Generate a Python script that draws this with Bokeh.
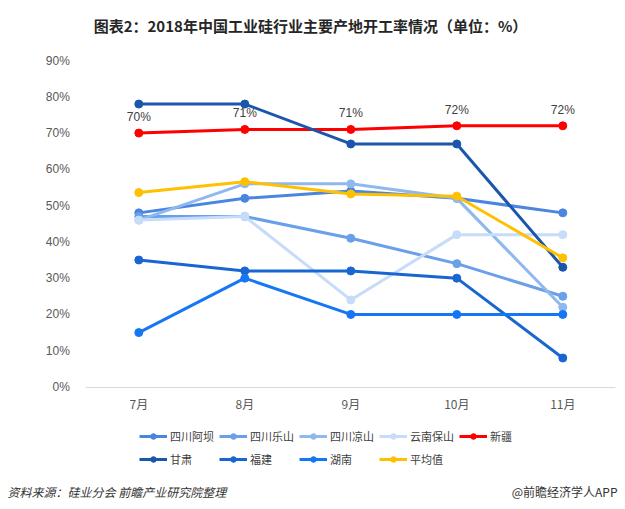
from bokeh.plotting import figure
from bokeh.models import (Range1d, FixedTicker, Legend, LegendItem, Label,
                          ColumnDataSource)
from bokeh.core.properties import value
from bokeh.embed import file_html
from bokeh.resources import INLINE

months = ["7月", "8月", "9月", "10月", "11月"]
series_names = ["四川阿坝", "四川乐山", "四川凉山", "云南保山", "新疆",
                "甘肃", "福建", "湖南", "平均值"]
sichuan_aba = [48, 52, 54, 52, 48]
sichuan_leshan = [47, 47, 41, 34, 25]
sichuan_liangshan = [46, 56, 56, 52, 22]
yunnan_baoshan = [46, 47, 24, 42, 42]
xinjiang = [70, 71, 71, 72, 72]
gansu = [78, 78, 67, 67, 33]
fujian = [35, 32, 32, 30, 8]
hunan = [15, 30, 20, 20, 20]
average = [53.6, 56.6, 53.2, 52.6, 35.6]
y_ticks = [0, 10, 20, 30, 40, 50, 60, 70, 80, 90]
y_tick_labels = ["0%", "10%", "20%", "30%", "40%", "50%", "60%", "70%", "80%", "90%"]
title_text = "图表2：2018年中国工业硅行业主要产地开工率情况（单位：%）"
source_text = "资料来源：硅业分会  前瞻产业研究院整理"
brand_text = "@前瞻经济学人APP"

series_values = [sichuan_aba, sichuan_leshan, sichuan_liangshan, yunnan_baoshan,
                 xinjiang, gansu, fujian, hunan, average]
colors = ["#4a86e0", "#6a9fe9", "#8fb8ef", "#c6dcf9", "#ff0000",
          "#1b56ad", "#1966d2", "#1677f5", "#ffc000"]

CJK = "Noto Sans CJK SC"
LAT = "Liberation Sans"
W, H = 620, 509

# category index positions for the months
x_idx = list(range(len(months)))

# the frame covers the whole canvas; ranges chosen so the plot area sits where
# the reference draws it (0% at 386px, 90% at 60px, 7月 at 138px, 106px/category)
p = figure(width=W, height=H, output_backend="svg", toolbar_location=None,
           x_range=Range1d(-138.3 / 106, (W - 138.3) / 106),
           y_range=Range1d(-(H - 386.5) / (326.5 / 90), 90 + 60 / (326.5 / 90)),
           min_border=0, min_border_left=0, min_border_right=0,
           min_border_top=0, min_border_bottom=0)
p.outline_line_color = None
p.xgrid.grid_line_color = None
p.ygrid.grid_line_color = None
p.background_fill_color = "white"
p.border_fill_color = "white"

p.yaxis.fixed_location = -0.5
p.yaxis.ticker = FixedTicker(ticks=y_ticks)
p.yaxis.major_label_overrides = {t: l for t, l in zip(y_ticks, y_tick_labels)}
p.yaxis.axis_line_color = None
p.yaxis.major_tick_line_color = None
p.yaxis.minor_tick_line_color = None
p.yaxis.major_label_standoff = 10
p.yaxis.major_label_text_font = LAT
p.yaxis.major_label_text_font_size = "12px"
p.yaxis.major_label_text_color = "#595959"

p.xaxis.fixed_location = 0
p.xaxis.bounds = (-0.5, len(months) - 0.5)
p.xaxis.ticker = FixedTicker(ticks=x_idx)
p.xaxis.major_label_overrides = {i: m for i, m in zip(x_idx, months)}
p.xaxis.axis_line_color = "#d9d9d9"
p.xaxis.axis_line_width = 1
p.xaxis.major_tick_line_color = None
p.xaxis.minor_tick_line_color = None
p.xaxis.major_label_standoff = 2
p.xaxis.major_label_text_font = CJK
p.xaxis.major_label_text_font_size = "12px"
p.xaxis.major_label_text_color = "#595959"

items = []
for name, vals, c in zip(series_names, series_values, colors):
    src = ColumnDataSource(dict(x=x_idx, y=vals))
    r1 = p.line("x", "y", source=src, line_color=c, line_width=3)
    r2 = p.scatter("x", "y", source=src, size=8, fill_color=c, line_color=c)
    items.append(LegendItem(label=name, renderers=[r1, r2]))

# data labels for 新疆
lab_src = ColumnDataSource(dict(x=x_idx, y=xinjiang, t=[f"{v}%" for v in xinjiang]))
p.text("x", "y", text="t", source=lab_src, text_font=value(LAT),
       text_font_size="12px", text_color="#404040", text_align="center",
       text_baseline="bottom", y_offset=-9)


def make_legend(its, loc):
    return Legend(items=its, location=loc, orientation="horizontal",
                  glyph_width=28, glyph_height=14, label_standoff=3, spacing=5,
                  label_width=44, padding=0, margin=0, border_line_color=None,
                  background_fill_alpha=0, label_text_font=CJK,
                  label_text_font_size="11px", label_text_color="#404040",
                  label_height=19)


p.add_layout(make_legend(items[:5], (139, H - 445.5)))
p.add_layout(make_legend(items[5:], (139, H - 468.5)))

p.add_layout(Label(x=310, y=H - 25, x_units="screen", y_units="screen",
                   text=title_text, text_font=CJK, text_font_size="15px",
                   text_font_style="bold", text_color="#262626",
                   text_align="center", text_baseline="middle"))
p.add_layout(Label(x=7, y=H - 491, x_units="screen", y_units="screen",
                   text=source_text, text_font=CJK, text_font_size="12px",
                   text_font_style="italic", text_color="#333333",
                   text_align="left", text_baseline="middle"))
p.add_layout(Label(x=617, y=H - 491, x_units="screen", y_units="screen",
                   text=brand_text, text_font=CJK, text_font_size="12px",
                   text_color="#333333", text_align="right",
                   text_baseline="middle"))

open("out.html", "w").write(file_html(p, INLINE))
